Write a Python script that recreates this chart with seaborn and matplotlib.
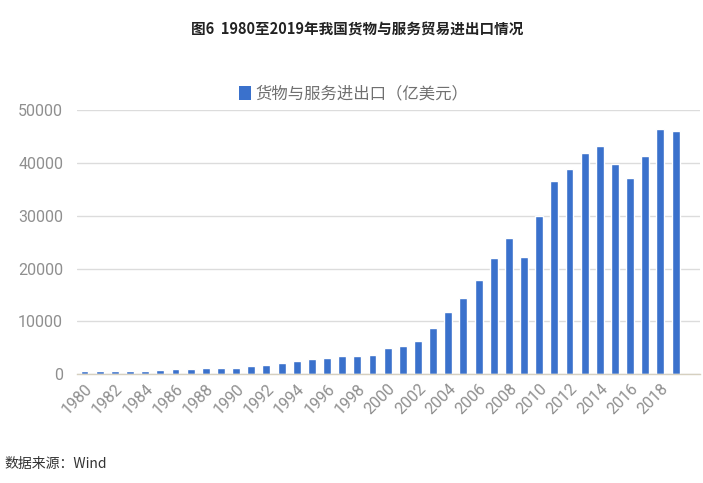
import matplotlib
matplotlib.use("Agg")
import matplotlib.pyplot as plt
import seaborn as sns
import pandas as pd
from matplotlib.patches import Patch

years = [str(y) for y in range(1980, 2020)]
values = [570, 620, 600, 630, 720, 880, 940, 1000, 1200, 1250,
          1250, 1500, 1850, 2200, 2550, 2900, 3020, 3420, 3390, 3710,
          4900, 5300, 6370, 8710, 11740, 14390, 17800, 21970, 25810, 22270,
          29980, 36610, 38880, 41850, 43180, 39770, 37120, 41290, 46460, 46020]
series_name = "货物与服务进出口（亿美元）"
title = "图6  1980至2019年我国货物与服务贸易进出口情况"
source = "数据来源：Wind"
yticks = [0, 10000, 20000, 30000, 40000, 50000]

sns.set_theme(style="white")
plt.rcParams['font.family'] = ['Noto Sans CJK SC', 'DejaVu Sans']

df = pd.DataFrame({"year": years, "value": values})
bar_color = "#3a71cc"
tick_color = "#8f8f8f"

fig = plt.figure(figsize=(7.03, 4.83), dpi=100)
ax = fig.add_axes([0.1095, 0.225, 0.886, 0.547])
sns.barplot(data=df, x="year", y="value", color=bar_color, width=0.52,
            ax=ax, saturation=1)

ax.set_xlim(-0.5, 40.6)
ax.set_ylim(0, 50000)
ax.set_yticks(yticks)
ax.set_yticklabels([str(v) for v in yticks], family=['Roboto', 'Noto Sans CJK SC'],
                   fontsize=11.5, color=tick_color)
ax.set_xticks(range(0, 40, 2))
ax.set_xticklabels(years[::2], rotation=45, ha="right", rotation_mode="anchor",
                   family=['Roboto', 'Noto Sans CJK SC'], fontsize=11.5, color=tick_color)
ax.tick_params(axis="y", length=0, pad=10)
ax.tick_params(axis="x", length=0, pad=5)
ax.set_xlabel("")
ax.set_ylabel("")
ax.grid(axis="y", color="#dcdcdc", linewidth=1)
ax.set_axisbelow(True)
for s in ["top", "right", "left"]:
    ax.spines[s].set_visible(False)
ax.spines["bottom"].set_color("#d6d0c0")
ax.spines["bottom"].set_linewidth(1)

handle = Patch(facecolor=bar_color, edgecolor="none")
fig.legend([handle], [series_name], loc="center", bbox_to_anchor=(0.503, 0.805),
           frameon=False, fontsize=11.8, handlelength=0.75, handleheight=0.9,
           handletextpad=0.3, labelcolor="#707070")

fig.text(0.508, 0.938, title, ha="center", va="center", fontsize=10.5,
         fontweight="bold", color="#222222")
fig.text(0.007, 0.04, source, ha="left", va="center", fontsize=10, color="#333333")

fig.savefig("out.png", dpi=100, facecolor="white")
